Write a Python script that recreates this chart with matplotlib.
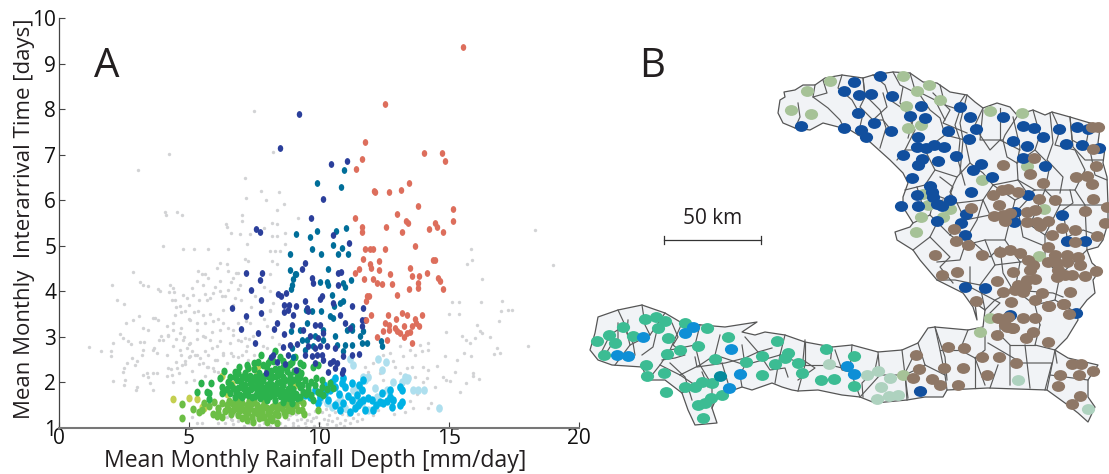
import numpy as np
import matplotlib
matplotlib.use("Agg")
import matplotlib.pyplot as plt
from matplotlib.markers import MarkerStyle
from matplotlib.patches import Polygon
from matplotlib.transforms import Affine2D

plt.rcParams['font.family'] = ['Open Sans', 'DejaVu Sans']

# panel A, values
gray_pts = [(7.51,7.96),(4.23,7.02),(3.02,6.66),(8.24,7.06),(7.17,6.48),(7.78,6.21),(8.45,6.19),(7.19,6.05),(7.95,6.01),(8.64,5.92),
 (8.4,5.79),(4.08,5.75),(4.11,5.67),(4.54,5.75),(4.72,5.67),(7.05,5.67),(7.05,5.54),(6.42,5.47),(6.46,5.41),(6.6,5.27),(6.96,5.25),
 (7.35,5.25),(7.9,5.38),(8.2,5.49),(8.37,5.47),(8.69,5.28),(8.18,5.22),(8.4,5.22),(9.2,5.6),(1.15,2.77),(1.61,2.69),(2.05,4.13),
 (2.23,3.82),(2.49,3.73),(2.83,4.42),(3.11,4.2),(3.24,4.15),(3.44,4.11),(3.82,4.05),(3.88,4.0),(4.27,4.15),(4.4,4.07),(4.42,3.98),
 (4.24,3.98),(2.58,3.3),(2.35,3.06),(2.47,2.97),(2.67,2.9),(2.76,2.85),(3.11,2.88),(3.27,2.88),(2.06,2.86),(2.0,2.68),(1.99,2.57),
 (3.09,3.45),(2.86,3.38),(3.24,3.19),(3.44,3.15),(3.63,3.41),(3.69,3.41),(3.92,3.01),(3.86,2.93),(4.01,2.93),(3.65,2.75),(3.63,2.71),
 (3.24,2.71),(3.18,2.6),(2.79,2.53),(2.99,2.46),(2.92,2.38),(2.6,2.42),(2.5,2.31),(2.45,2.24),(2.09,2.04),(2.54,2.05),(2.5,1.94),
 (2.99,1.9),(2.96,1.83),(3.37,2.2),(3.44,2.13),(3.24,2.16),(3.63,2.2),(3.76,2.2),(3.5,1.98),(3.6,1.83),(4.01,4.99),(4.33,3.82),
 (4.46,3.82),(4.78,3.93),(4.91,3.85),(5.1,4.07),(5.29,4.22),(5.49,4.37),(5.61,4.37),(5.74,4.29),(6.06,4.51),(6.19,4.63),(6.45,4.61),
 (6.51,4.93),(5.74,4.93),(5.2,4.93),(4.78,4.92),(7.22,5.05),(8.11,4.88),(8.31,4.88),(8.5,4.88),(8.69,5.03),(7.15,4.7),(7.28,4.66),
 (8.18,4.66),(8.37,4.59),(8.11,4.37),(4.5,3.65),(4.7,3.55),(5.0,3.7),(5.2,3.55),(5.4,3.8),(5.6,3.95),(5.8,3.85),(6.0,4.1),(6.2,4.0),
 (6.4,3.9),(6.6,4.2),(6.8,4.4),(6.9,4.05),(7.0,3.8),(6.7,3.7),(6.3,3.6),(6.1,3.4),(5.8,3.5),(5.6,3.3),(5.3,3.3),(5.0,3.4),(4.7,3.2),
 (4.4,3.3),(4.2,3.05),(4.5,2.95),(4.8,3.0),(5.0,2.85),(5.3,2.95),(5.6,3.0),(5.9,3.1),(6.2,3.15),(6.5,3.2),(6.7,3.05),(7.0,2.9),
 (7.3,2.95),(6.2,2.9),(5.9,2.75),(5.6,2.7),(5.3,2.6),(5.0,2.55),(4.7,2.6),(4.5,2.45),(4.3,2.3),(4.15,2.15),(4.6,2.2),(4.85,2.4),
 (5.1,2.25),(5.4,2.4),(5.7,2.35),(6.0,2.5),(6.3,2.6),(6.6,2.65),(6.9,2.55),(7.2,2.7),(7.5,2.6),(5.95,2.25),(5.2,2.05),(4.9,2.0),
 (4.4,2.0),(5.6,2.15),(15.85,4.92),(15.9,4.68),(15.7,4.61),(18.99,4.57),(18.3,5.35),(16.26,4.28),(15.1,3.77),(15.4,3.77),(16.22,3.77),
 (17.05,3.78),(15.0,3.51),(15.39,3.51),(16.99,3.56),(17.26,3.58),(17.44,3.6),(16.94,3.34),(16.09,3.27),(16.19,3.14),(16.26,3.08),
 (14.87,3.1),(15.49,3.01),(15.65,2.93),(15.81,2.86),(16.01,2.97),(16.58,2.99),(18.05,2.8),(16.83,2.75),(16.96,2.65),(16.73,2.63),
 (15.59,2.64),(15.85,2.57),(14.85,2.57),(15.3,2.49),(14.55,2.37),(15.23,2.24),(15.91,2.2),(15.94,2.14),(16.15,2.07),(14.78,2.11),
 (14.87,2.05),(15.04,2.03),(15.64,1.98),(15.42,1.79),(14.2,1.43),(12.73,2.64),(13.12,2.79),(13.5,2.71),(13.88,2.82),(14.2,2.86),
 (14.2,2.71),(13.95,2.68),(13.69,2.6),(13.24,2.57),(12.86,2.46),(12.48,2.6),(12.09,2.42),(11.77,2.35),(11.9,2.24),(12.35,2.2),
 (12.92,2.35),(13.37,2.31),(13.57,2.33),(14.01,2.35),(14.2,2.27),(14.14,2.09),(14.01,2.01),(13.69,2.13),(13.12,2.2),(12.48,2.05),
 (12.09,1.28),(12.28,1.39),(7.9,4.1),(8.1,4.0),(7.55,3.9),(7.4,3.65),(7.35,3.3),(7.9,3.4),(8.1,3.6),(8.2,3.0),(8.0,2.75),(8.45,2.85),
 (7.2,3.35),(6.9,3.3),(13.5,1.6),(13.75,1.75),(14.3,1.55),(14.45,1.9),(13.3,1.35),(12.9,1.3),(13.6,1.45),(5.5,1.1),(5.1,1.25),
 (6.4,1.1),(6.6,1.2),(6.7,1.08),(6.9,1.15),(7.1,1.05),(7.3,1.12),(7.5,1.2),(7.7,1.06),(7.9,1.1),(8.1,1.04),(8.3,1.2),(8.5,1.1),
 (8.7,1.05),(8.8,1.2),(9.0,1.12),(9.1,1.3),(9.2,1.04),(9.3,1.2),(9.45,1.1),(9.6,1.3),(9.7,1.15),(9.8,1.05),(9.9,1.25),(10.0,1.12),
 (10.1,1.35),(10.2,1.2),(10.3,1.08),(10.4,1.28),(10.5,1.15),(10.6,1.35),(10.7,1.22),(10.8,1.1),(10.9,1.3),(11.0,1.18),(11.1,1.28),
 (11.2,1.12),(11.3,1.22),(11.45,1.15),(11.5,1.3),(11.65,1.2),(9.0,1.05),(9.15,1.18),(9.5,1.03),(9.75,1.22),(10.05,1.03),(10.35,1.18),
 (10.65,1.07),(10.95,1.05),(8.9,1.28),(9.4,1.35),(9.85,1.38),(10.25,1.42),(10.75,1.4),(11.05,1.38),(9.55,1.18),
 (4.2,2.31),(4.33,2.16),(4.52,2.31),(4.72,2.38),(4.85,2.46),(5.04,2.57),(5.23,2.6),(5.42,2.53),(5.55,2.42),(5.74,2.35),(5.94,2.31),(6.13,2.24),
 (4.4,3.15),(4.65,3.08),(4.78,2.93),(5.04,2.86),(5.29,3.15),(5.55,3.01),(5.81,2.93),(6.06,2.79),(6.32,2.64),(6.58,2.86),(6.9,2.93),(7.15,2.97),
 (6.7,3.15),(6.32,3.3),(5.94,3.34),(5.55,3.49),(5.36,3.56),(5.04,3.38),(4.85,3.56),(4.65,3.67),(4.46,3.49),(5.68,3.82),(5.94,3.96),(6.26,3.89),
 (6.51,4.04),(6.77,3.85),(6.96,4.15),(6.19,4.22),(6.7,4.29),(6.51,4.44),(6.9,4.4),(5.55,4.15),(5.17,3.93),(5.36,4.44),(3.82,3.38),(4.14,3.23),
 (4.2,3.01),(4.4,2.79),(4.65,2.71),(4.14,2.6),(3.76,2.64),(4.91,2.75),(5.1,2.68),(5.74,2.6),(6.06,2.49),(6.45,2.42),(7.22,2.79),(7.47,3.01),
 (7.86,2.79),(7.99,3.23),(8.11,3.56),(8.24,3.74),(6.7,2.57),(7.02,2.6),(7.28,2.49),(7.54,2.46),(6.96,2.38),(5.42,1.32),(5.29,1.1),(6.13,1.1),
 (6.45,1.24),(6.64,1.17),(6.77,1.32)]

red_pts = [(15.55,9.37),(12.55,8.11),(11.77,7.27),(11.66,6.9),(11.43,6.68),(14.05,7.03),(14.72,7.03),(14.84,6.86),(13.47,6.38),(13.16,6.22),
 (12.7,6.19),(12.12,6.21),(12.16,6.19),(13.8,5.87),(15.16,5.8),(15.14,5.54),(13.0,5.69),(13.35,5.54),(13.43,5.5),(14.47,5.5),(14.55,5.41),
 (14.22,5.36),(14.77,5.3),(13.2,5.3),(12.59,5.41),(11.4,5.6),(11.65,5.41),(11.65,5.3),(11.77,4.94),(11.96,4.94),(12.08,4.94),(12.54,4.94),
 (13.69,5.0),(11.69,4.72),(12.31,4.66),(11.96,4.59),(12.0,4.52),(11.54,4.5),(11.38,4.41),(12.31,4.46),(12.73,4.39),(13.5,4.52),(13.58,4.33),
 (13.85,4.33),(14.15,4.41),(14.38,4.68),(14.46,4.68),(14.58,4.3),(14.65,4.22),(14.77,4.06),(13.81,4.19),(13.81,4.08),(13.46,4.06),(12.81,4.17),
 (12.42,4.17),(12.23,4.19),(11.73,4.26),(12.08,4.28),(13.0,3.93),(11.85,3.89),(11.92,3.89),(11.81,3.78),(12.0,3.47),(11.81,3.36),(12.65,3.49),
 (12.96,3.4),(13.19,3.53),(13.38,3.47),(13.96,3.47),(13.69,3.4),(13.73,3.31),(12.54,3.31),(12.69,3.27),(12.46,3.14),(12.69,3.16),(12.92,3.2),
 (13,3.14),(13.12,3.09),(13.27,3.0),(13.38,3.09),(13.27,3.25),(13.58,3.25),(13.85,3.25),(13.5,3.11),(12.23,3.0),(12.62,2.94),(13.58,2.87)]

navy_pts = [(9.24,7.9),(10.46,6.79),(11.08,6.86),(10.15,6.02),(9.69,5.6),(10.54,5.23),(8.5,7.14),(7.58,5.36),(7.73,5.3),(7.19,4.41),(7.81,4.41),
 (7.73,4.24),(7.38,4.02),(7.77,3.82),(6.65,3.64),(7.19,3.45),(7.77,3.53),(7.0,3.18),(7.65,3.09),(7.54,2.87),(8.38,3.31),(8.27,3.18),(8.65,3.07),
 (8.96,3.27),(8.42,3.95),(8.54,3.89),(8.73,3.97),(8.65,3.71),(8.85,3.71),(8.65,3.55),(8.81,3.6),(9.0,3.49),(9.12,3.67),(8.62,2.78),(8.88,2.83),
 (9.15,2.85),(8.23,2.61),(8.15,2.56),(8.38,2.45),(8.69,2.41),(7.96,2.21),(9.12,2.28),(8.81,2.6),(11.17,5.06),(9.46,4.63),(9.33,4.48),(9.72,4.29),
 (9.78,4.18),(10.74,4.4),(10.83,4.43),(10.74,4.15),(10.55,3.74),(11.28,3.67),(11.71,3.63),(11.64,3.38),(11.77,3.38),(11.64,3.24),(10.81,3.49),
 (11.0,3.3),(11.19,3.19),(10.1,3.89),(10.04,3.83),(9.46,3.78),(9.53,3.63),(9.59,3.56),(9.85,3.27),(10.04,3.27),(10.17,3.08),(9.98,2.97),(9.65,3.01),
 (9.4,3.15),(9.59,2.79),(9.85,2.75),(10.04,2.79),(10.3,2.79),(10.62,2.75),(10.94,2.57),(11.26,2.6),(11.55,2.62),(9.46,2.6),(9.72,2.57),(9.91,2.6),
 (10.1,2.6),(10.42,2.42),(10.55,2.46),(10.94,2.27),(10.87,2.2),(10.62,2.31),(10.36,2.24),(9.85,2.42),(10.17,2.49),(10.68,2.42)]

teal_pts = [(10.96,6.66),(9.92,6.38),(10.85,6.29),(9.92,5.32),(10.65,5.32),(11.04,5.38),(9.65,5.2),(9.12,5.25),(8.88,4.83),(8.88,4.46),(9.08,4.37),
 (9.13,4.37),(9.0,4.28),(8.96,4.15),(8.92,4.06),(8.92,3.14),(8.96,2.76),(9.0,2.56),(9.74,4.92),(10.08,4.82),(10.55,5.01),(10.9,4.96),(10.72,4.82),
 (11.13,4.82),(10.33,4.5),(10.04,4.21),(10.3,4.21),(10.36,4.13),(10.94,4.18),(11.0,4.09),(11.22,4.24),(10.49,3.93),(10.94,3.78),(10.81,3.74),
 (10.59,3.67),(10.08,3.57),(9.72,3.56),(9.49,3.6),(10.42,3.45),(10.55,3.41),(11.26,3.24),(11.28,3.15),(11.06,3.15),(11.58,3.01),(11.71,3.12),
 (11.64,2.86),(11.83,2.86),(12.39,2.9),(12.41,2.8),(10.17,3.15),(9.53,3.3),(9.27,3.15),(9.33,2.93),(9.53,2.93),(9.85,3.01),(10.17,2.93),(10.62,3.01),
 (10.68,2.82),(11.0,2.82),(11.26,2.82),(10.94,2.68),(9.46,2.71),(9.78,2.79)]

cyan_pts = [(10.94,2.09),(10.87,1.98),(11.0,1.9),(11.26,1.98),(11.64,1.83),(11.45,1.72),(11.26,1.61),(10.62,1.9),(10.42,1.83),(10.23,1.76),(9.85,1.83),
 (9.65,1.68),(9.46,1.72),(11.58,1.57),(11.71,1.61),(12.03,1.61),(12.35,1.57),(12.41,1.76),(12.73,1.68),(12.86,1.61),(13.18,1.57),(13.12,1.5),(12.8,1.46),
 (12.48,1.54),(12.09,1.39),(11.77,1.39),(11.39,1.43),(11.19,1.35),(10.94,1.54),(10.62,1.5),(10.36,1.61),(10.04,1.68),(13.12,1.9),(13.18,1.83),(12.73,1.83),
 (11.9,1.65),(10.49,2.02),(10.62,2.09),(11.71,2.05),(10.75,1.75),(11.1,1.7),(11.5,1.5),(12.2,1.5),(12.6,1.6),(10.8,1.4),(11.55,1.95),(10.2,1.95),(9.95,1.55)]

pale_blue_pts = [(11.19,2.51),(11.32,2.38),(12.28,2.51),(12.58,2.44),(12.41,2.27),(11.71,2.13),(11.9,2.13),(11.77,2.05),(13.31,2.13),(13.18,2.01),(13.37,2.05),
 (13.44,2.09),(12.83,2.01),(12.15,1.87),(11.45,1.87),(11.32,1.83),(10.81,1.68),(10.68,1.54),(10.94,1.46),(10.04,1.61),(10.3,1.54),(10.49,1.46),(12.22,1.68),
 (11.9,1.39),(12.03,1.39),(12.6,1.83),(13.63,1.83),(13.82,1.83),(14.04,1.83),(14.63,1.45),(11.39,1.54),(11.64,1.54),(11.0,1.43)]

green_pts = [(5.47,1.99),(5.83,1.99),(5.32,1.8),(5.68,1.8),(5.77,1.76),(5.78,1.63),(6.19,2.09),(6.33,2.26),(6.26,1.9),(6.32,1.8),(6.26,1.76),(6.58,2.11),
 (6.77,2.24),(6.94,2.35),(6.9,2.2),(7.02,2.13),(7.22,2.38),(7.28,2.31),(6.7,1.87),(6.9,1.87),(7.08,1.87),(7.28,1.83),(7.47,1.9),(7.67,1.9),(6.58,1.76),
 (6.77,1.68),(7.02,1.68),(7.76,2.6),(8.31,2.69),(7.86,2.38),(8.05,2.42),(8.24,2.48),(8.63,2.46),(8.82,2.38),(9.08,2.55),(7.99,2.24),(8.18,2.13),(8.44,2.16),
 (8.63,2.13),(8.88,2.16),(9.14,2.13),(7.54,2.13),(7.86,2.05),(8.12,2.01),(8.37,1.98),(8.63,1.94),(8.88,1.98),(9.2,1.98),(7.35,1.98),(7.6,1.79),(7.86,1.87),
 (8.18,1.83),(8.44,1.76),(8.76,1.72),(9.01,1.68),(9.27,1.68),(7.41,1.68),(7.73,1.65),(7.99,1.61),(8.31,1.61),(8.63,1.57),(8.95,1.54),(9.59,1.93),(9.85,1.94),
 (10.1,2.05),(10.1,1.9),(10.42,1.98),(10.55,1.87),(10.04,1.76),(10.17,1.72),(9.59,1.83),(9.78,1.61),(9.27,2.42),(9.4,2.38),(9.78,2.35),(9.98,2.38),(9.27,2.13),
 (9.46,2.05),(9.27,1.9),(9.4,1.79),(7.7,2.2),(8.0,1.95),(8.3,2.3),(8.5,2.0),(8.75,2.25),(9.0,1.85),(7.5,2.3),(7.2,2.1),(7.15,1.75),(7.95,1.75),(8.25,1.9),
 (8.55,1.85),(8.8,1.85),(9.1,1.75),(7.6,2.0),(8.05,2.15),(8.9,2.4),
 (6.6,1.95),(6.85,2.05),(7.0,2.0),(7.15,2.2),(7.35,2.15),(7.45,2.05),(7.7,2.1),(7.75,1.95),(7.9,2.15),(8.0,2.3),(8.15,2.25),(8.2,1.95),(8.35,2.15),(8.45,2.3),
 (8.55,2.25),(8.7,2.05),(8.85,2.05),(9.0,2.05),(9.05,2.25),(9.2,2.25),(9.3,2.2),(6.8,1.78),(6.95,1.72),(7.15,1.95),(7.25,1.72),(7.4,1.85),(7.55,1.7),(7.7,1.72),
 (7.8,1.8),(7.9,1.7),(8.05,1.85),(8.1,1.7),(8.25,1.75),(8.4,1.85),(8.5,1.7),(8.65,1.78),(8.7,1.65),(8.85,1.65),(8.95,1.75),(9.15,1.65),(9.35,1.95),(9.5,1.75),
 (9.7,1.72),(9.7,2.0),(9.95,1.8),(9.9,2.1),(10.3,1.85),(6.5,2.0),(6.45,1.85),(6.75,2.12),(7.5,2.42),(7.65,2.45),(8.1,2.5),(8.5,2.55),(8.6,2.35),(8.95,2.45)]

light_green_pts = [(4.72,1.52),(4.72,1.22),(5.17,1.41),(5.4,1.35),(5.49,1.39),(5.59,1.54),(5.78,1.49),(5.97,1.56),(5.94,1.3),(6.06,1.26),(6.28,1.24),(6.13,1.32),
 (6.26,1.54),(6.45,1.5),(6.64,1.54),(6.83,1.57),(7.02,1.54),(7.22,1.5),(7.41,1.54),(7.6,1.5),(7.79,1.46),(7.99,1.43),(8.18,1.46),(8.37,1.39),(8.56,1.43),(8.76,1.5),
 (8.95,1.46),(6.9,1.28),(7.02,1.21),(7.22,1.17),(7.41,1.24),(7.6,1.32),(7.47,1.13),(7.79,1.24),(7.99,1.13),(8.18,1.17),(8.37,1.11),(8.69,1.28),(8.82,1.39),(9.27,1.61),
 (9.4,1.54),(9.33,1.39),(9.44,1.3),(9.98,1.39),(6.7,1.39),(6.96,1.39),(7.28,1.35),(7.79,1.35),(8.05,1.32),(8.44,1.28),
 (6.5,1.42),(6.6,1.3),(6.8,1.45),(7.1,1.4),(7.2,1.28),(7.35,1.45),(7.5,1.38),(7.65,1.4),(7.7,1.22),(7.9,1.25),(8.1,1.38),(8.1,1.25),(8.3,1.3),(8.5,1.5),(8.65,1.35),
 (8.8,1.55),(8.95,1.38),(9.1,1.5),(9.2,1.4),(7.0,1.48),(7.5,1.6),(7.9,1.55),(8.3,1.52),(6.55,1.6),(6.95,1.62),(7.3,1.6),(6.4,1.38),(6.1,1.45)]

olive_pts = [(4.37,1.63),(5.0,1.65),(5.29,1.63),(5.51,1.46),(5.58,1.43),(6.45,1.74),(6.64,1.96),(7.11,2.15),(7.56,2.27),(7.67,2.36),(9.08,1.94),(7.26,2.31),(6.26,2.15)]

x_ticks = [0, 5, 10, 15, 20]
y_ticks = [1, 2, 3, 4, 5, 6, 7, 8, 9, 10]

# panel B, image pixel coordinates
island_outline = [(778,113),(780,100),(785,97),(784,92),(795,90),(803,85),(815,85),(825,78),(842,75),(863,78),(873,75),(893,72),(910,73),(923,82),(937,83),
 (950,92),(967,95),(975,102),(983,108),(997,103),(1010,107),(1017,115),(1033,110),(1045,115),(1052,112),(1070,117),(1090,123),(1100,128),(1098,143),(1105,148),
 (1103,163),(1107,177),(1108,205),(1108,223),(1103,240),(1098,247),(1087,250),(1092,263),(1100,270),(1093,280),(1095,293),(1087,300),(1077,313),(1078,320),(1067,338),
 (1055,350),(1068,358),(1098,365),(1088,380),(1088,397),(1095,407),(1088,422),(1078,413),(1065,403),(1047,390),(988,388),(947,390),(943,397),(925,397),(907,400),
 (875,403),(860,397),(842,395),(818,390),(798,391),(792,390),(782,387),(772,383),(752,390),(742,387),(728,392),(717,397),(712,408),(717,423),(695,425),(688,410),
 (682,393),(665,380),(648,380),(642,367),(612,365),(598,360),(590,350),(595,333),(598,317),(618,310),(642,305),(665,313),(682,323),(702,325),(725,327),(757,322),
 (742,332),(755,335),(765,332),(785,335),(805,342),(832,347),(852,345),(878,352),(902,350),(918,343),(928,328),(935,327),(968,330),(983,327),(985,310),(975,303),
 (977,320),(973,307),(963,293),(937,280),(920,260),(913,250),(897,240),(895,232),(910,227),(913,223),(903,207),(903,197),(908,183),(903,173),(890,160),(870,142),
 (850,130),(823,123),(810,130),(795,128),(783,123)]

commune_lines = [
 [(798,103),(800,117),(795,128)],[(815,85),(813,97),(828,108),(840,120),(845,130)],[(842,75),(838,88),(852,100),(862,118),(858,135)],
 [(863,78),(865,95),(880,110),(886,128),(880,148)],[(873,75),(885,85),(890,100),(905,110),(915,130),(905,150),(897,160)],
 [(893,72),(900,85),(920,95),(930,110),(940,118),(945,135)],[(910,73),(915,90),(935,100),(945,120)],
 [(940,85),(945,105),(960,110),(955,125),(960,140),(958,160),(965,185)],[(965,95),(955,110)],
 [(983,108),(975,125),(980,135),(990,150),(1000,140),(1010,145),(1020,150)],[(1000,108),(1000,140)],[(1018,115),(1005,135),(1003,140),(1007,157),(1017,163),(1018,180),(993,185)],
 [(993,185),(983,173),(970,163),(957,177),(950,192),(957,203),(983,200),(993,185)],[(1033,110),(1040,135),(1035,150),(1050,165),(1045,190),(1060,205)],
 [(1052,112),(1060,130),(1055,145),(1075,150),(1085,170),(1075,190)],[(1070,117),(1072,140),(1090,150),(1095,175),(1107,180)],[(1090,123),(1085,150)],
 [(1017,163),(1035,150)],[(1018,180),(1035,190),(1045,190),(1075,190),(1085,205),(1108,205)],[(970,163),(965,140),(945,135),(925,150),(905,150)],
 [(925,150),(935,170),(925,185),(905,190)],[(935,170),(957,177)],[(925,185),(935,195),(930,215),(913,223)],[(935,195),(957,203),(965,220),(950,235),(930,215)],
 [(983,200),(990,215),(1010,220),(1015,200),(993,185)],[(965,220),(990,215)],[(1015,200),(1035,190)],[(1010,220),(1030,225),(1045,190)],[(1030,225),(1045,235),(1060,205)],
 [(1060,205),(1085,205),(1087,250)],[(950,235),(965,245),(960,260),(937,262)],[(965,245),(985,240),(1005,240),(1010,220)],[(985,240),(995,265),(980,285),(955,280),(937,280)],
 [(1005,240),(1020,262),(1045,260),(1045,235)],[(995,265),(1020,262)],[(1020,262),(1015,290),(1035,305),(1040,325)],[(1045,260),(1060,275),(1087,250)],[(1060,275),(1055,300),(1077,313)],
 [(980,285),(985,310)],[(1015,290),(995,300),(985,310)],[(1035,305),(1055,300)],[(1000,320),(1000,335),(1010,345),(1010,385)],[(1040,325),(1035,345),(1055,350)],[(1010,345),(1035,345)],
 [(1025,345),(1030,388)],[(1055,350),(1050,375),(1047,390)],[(1050,375),(1088,380)],[(985,330),(985,350),(975,358),(985,385)],[(968,330),(960,350),(975,358)],[(935,327),(940,350),(945,375),(947,390)],
 [(940,350),(960,350)],[(918,343),(925,365),(945,375)],[(925,365),(905,375),(908,398)],[(902,350),(905,375)],[(878,352),(880,375),(905,375)],[(880,375),(860,397)],
 [(852,345),(850,370),(860,397)],[(832,347),(830,365),(850,370)],[(805,342),(805,365),(830,365)],[(805,365),(798,391)],[(785,335),(780,355),(805,365)],[(780,355),(775,383)],
 [(742,345),(745,365),(780,355)],[(720,335),(715,355),(745,365)],[(745,365),(740,375),(742,387)],[(715,355),(700,365),(712,385),(712,408)],[(700,325),(695,345),(700,365)],[(682,323),(670,350),(660,365),(648,380)],
 [(670,350),(695,345)],[(665,313),(650,335),(630,345),(615,365)],[(642,305),(645,325),(650,335)],[(618,310),(625,325),(610,335),(600,355)],[(625,325),(630,345)],[(682,393),(695,385),(712,385)],
 [(660,365),(680,375),(695,385)],[(680,375),(700,365)],
 [(618,323),(618,340),(610,347),(605,355)],[(628,320),(627,333),(633,343),(635,355)],[(657,330),(653,347),(642,355)],[(672,323),(678,337),(673,345),(685,355),(675,358),(662,360)],
 [(695,357),(697,367),(725,363),(745,358),(758,352),(772,348)],[(670,363),(685,377),(692,400)],[(702,372),(708,387)],[(722,363),(728,383)],[(745,337),(758,352),(770,370),(785,368),(788,377)],
 [(805,340),(803,360),(815,368),(798,380)],[(835,350),(842,370),(862,375)],[(878,355),(875,370),(862,383),(863,397)],[(913,357),(905,373),(907,400)],[(935,327),(945,357),(947,380)],
 [(975,357),(975,388)],[(998,365),(990,388)],[(1022,363),(1052,363),(1045,390)],[(988,343),(1022,363)],[(1055,350),(1057,363)],
 [(823,80),(827,93),(813,97)],[(863,78),(865,97),(860,107),(873,120),(883,120),(895,135)],[(883,93),(887,107),(873,120)],[(903,87),(900,103),(913,120),(908,138)],
 [(933,93),(950,110),(943,123),(967,133)],[(967,95),(960,123),(963,140),(960,173)],[(983,110),(980,140),(1003,140)],[(1050,113),(1053,143),(1047,160),(1063,177),(1060,193)],
 [(1013,117),(1020,147),(1017,163)],[(1070,117),(1073,147),(1085,160),(1103,160)],[(1018,180),(1030,197),(1018,210),(1023,237),(1047,247)],
 [(1070,190),(1073,203),(1063,210),(1067,237),(1083,230),(1103,237)],[(983,200),(977,220),(967,237),(990,257),(1000,247)],[(940,217),(930,237),(913,250)],
 [(930,237),(950,257),(940,267),(953,283)],[(970,267),(970,287),(1000,303),(990,313)],[(1000,247),(1003,273),(1013,290),(1053,293),(1063,297)],[(917,187),(923,207),(943,200)],
 [(940,177),(953,187),(947,203)]]

north_blue_x = [329,253,222,268,304,367,263,454,420,465,570,600,617,597,534,699,92,222,272,288,313,364,445,440,467,492,522,557,503,400,457,443,425,480,485,440,490,540,392,444,500,515,603,589,572,502,585,633,610,665,728,770,758,793,820,867,922,955,887,935,987,759,825,773,735,732,876,890,945,586,646,720,918]
north_blue_y = [48,65,93,105,103,109,158,138,168,174,142,171,207,236,214,172,199,204,209,232,190,212,232,262,264,255,262,289,304,286,298,316,355,377,395,404,412,420,438,438,432,438,397,462,489,482,525,311,330,350,242,259,198,203,231,207,200,208,252,256,263,293,319,404,455,487,464,542,542,680,685,765,760]
north_sage_x = [180,110,62,122,400,478,440,510,407,414,453,660,757,772,635,460,474,541,520,452,437,822,808,660]
north_sage_y = [62,93,149,163,47,76,92,120,138,203,194,154,160,317,360,403,434,447,471,472,516,448,589,775]
north_brown_x = [965,985,968,978,700,792,780,818,917,950,965,968,1012,945,1005,980,915,916,875,846,856,808,670,695,715,745,687,673,603,552,557,595,495,635,515,561,680,730,700,720,705,770,795,770,800,835,810,690,720,750,775,790,780,835,855,835,860,890,925,890,930,865,860,885,905,945,978,770,795,745,765,735,760,700,815,900,723,618,838,883,898,760,795,685,715,710,730]
north_brown_y = [200,202,268,318,314,294,342,368,352,348,372,416,440,453,490,528,545,509,503,526,420,417,405,390,388,397,434,467,444,508,542,556,585,585,645,636,664,637,465,460,483,455,450,487,485,483,497,575,570,580,600,615,630,560,585,607,610,585,590,605,615,630,650,645,645,648,634,660,658,675,680,690,695,695,698,696,725,722,738,732,763,775,773,775,770,800,805]
south_green_x = [36,72,115,180,212,240,218,300,365,143,90,250,428,340,284,247,58,182,187,237,390,575,532,482,600,610,570,640,722,808,532,652,708,748,808,243,300,330,350,380,410,340,360,378,355]
south_green_y = [122,104,82,58,52,62,85,70,85,108,130,115,110,138,150,162,165,195,228,220,178,122,167,185,175,160,192,190,146,168,225,220,240,236,258,277,262,262,245,248,286,315,310,295,353]
south_azure_x = [175,95,130,300,323,438,464,432,787,807]
south_azure_y = [111,165,168,100,82,147,222,264,199,222]
south_teal_x = [405]
south_teal_y = [228]
south_pale_x = [733,845,880,915,888,877,912,940,1298,1508]
south_pale_y = [192,225,214,235,260,296,289,285,239,327]
south_sage_x = [955,1185]
south_sage_y = [225,95]
south_blue_x = [1005]
south_blue_y = [273]
south_brown_x = [993,1002,985,1040,1065,1120,1078,1135,1088,1138,1190,1243,1293,1205,1390,1425,1460,1487,1523,1483,1418,1485,1460,1235,1323,1345,1260,1282,1390,1435,1350]
south_brown_y = [165,208,233,238,255,256,205,204,141,145,172,172,189,225,125,225,192,192,212,225,258,288,311,105,113,95,75,85,18,12,0]

fig = plt.figure(figsize=(11.09, 4.74), dpi=100)
W, H = 1109.0, 474.0

axm = fig.add_axes([0, 0, 1, 1])
axm.set_xlim(0, W)
axm.set_ylim(H, 0)
axm.axis('off')
axm.add_patch(Polygon(island_outline, closed=True, facecolor='#F1F3F6', edgecolor='#555555', lw=0.9, joinstyle='round'))
for line in commune_lines:
    axm.plot([p[0] for p in line], [p[1] for p in line], color='#5A5A5A', lw=0.85, solid_joinstyle='round')

oval = MarkerStyle('o', transform=Affine2D().scale(1.12, 0.92))

def north(xs, ys):
    return 770 + np.array(xs) / 3, 60 + np.array(ys) / 3

def south(xs, ys):
    return 585 + np.array(xs) / 3, 300 + np.array(ys) / 3

map_groups = [(south_pale_x, south_pale_y, south, '#AED2BF'), (south_green_x, south_green_y, south, '#3CBC93'),
              (south_azure_x, south_azure_y, south, '#0E8FD6'), (south_teal_x, south_teal_y, south, '#048A9C'),
              (north_sage_x, north_sage_y, north, '#A6C297'), (south_sage_x, south_sage_y, south, '#A6C297'),
              (north_blue_x, north_blue_y, north, '#114F9E'), (south_blue_x, south_blue_y, south, '#114F9E'),
              (north_brown_x, north_brown_y, north, '#8E7766'), (south_brown_x, south_brown_y, south, '#8E7766')]
for xs, ys, conv, col in map_groups:
    mx, my = conv(xs, ys)
    axm.scatter(mx, my, s=72, marker=oval, color=col, linewidths=0, zorder=3)

# scale bar
axm.plot([664, 761], [240, 240], color='#333333', lw=0.9)
axm.plot([664, 664], [236, 244], color='#333333', lw=0.9)
axm.plot([761, 761], [236, 244], color='#333333', lw=0.9)
axm.text(712.5, 218, '50 km', ha='center', va='center', fontsize=15, color='#231F20')
axm.text(652, 67, 'B', ha='center', va='center', fontsize=29, color='#231F20')
axm.text(107, 67, 'A', ha='center', va='center', fontsize=29, color='#231F20')

# panel A
ax = fig.add_axes([59 / W, 1 - 428 / H, 520 / W, 410 / H])
ax.patch.set_alpha(0)
ax.set_xlim(0, 20)
ax.set_ylim(1, 10)

tall = MarkerStyle('o', transform=Affine2D().scale(0.88, 1.1))
scatter_groups = [(gray_pts, '#D2D3D5', 6, 'o'), (pale_blue_pts, '#AEDFEE', 30, tall), (cyan_pts, '#00B2E5', 30, tall),
                  (olive_pts, '#C4CF50', 26, tall), (light_green_pts, '#6CBE45', 27, tall), (green_pts, '#2BB24C', 26, tall),
                  (teal_pts, '#006E99', 20, tall), (navy_pts, '#2B3F9B', 20, tall), (red_pts, '#DD6E5C', 20, tall)]
for pts, col, size, mk in scatter_groups:
    ax.scatter([p[0] for p in pts], [p[1] for p in pts], s=size, marker=mk, color=col, linewidths=0, clip_on=False)

for side in ['top', 'right']:
    ax.spines[side].set_visible(False)
ax.spines['left'].set_color('#444444')
ax.spines['left'].set_linewidth(0.9)
ax.spines['bottom'].set_color('#777777')
ax.spines['bottom'].set_linewidth(1.5)
ax.set_xticks(x_ticks)
ax.set_yticks(y_ticks)
ax.tick_params(direction='in', length=4, width=0.8, color='#444444', labelsize=15, labelcolor='#111111', pad=0)
ax.tick_params(axis='y', pad=2)
ax.set_xlabel('Mean Monthly Rainfall Depth [mm/day]', fontsize=16.6, color='#231F20')
ax.xaxis.set_label_coords(0.493, -0.051)
ax.set_ylabel('Mean Monthly  Interarrival Time [days]', fontsize=16, color='#231F20')
ax.yaxis.set_label_coords(-0.047, 0.51)

fig.savefig('out.png', dpi=100)
